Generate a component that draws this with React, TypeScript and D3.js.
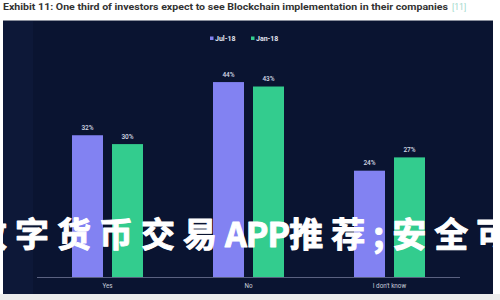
import React from "react";
import * as d3 from "d3";

const categories = ["Yes", "No", "I don't know"];
const seriesNames = ["Jul-18", "Jan-18"];
const jul18 = [32, 44, 24];
const jan18 = [30, 43, 27];
const colors = ["#8282f2", "#33cc8e"];
const title = "Exhibit 11: One third of investors expect to see Blockchain implementation in their companies";
const titleRef = "[11]";
const overlayCJK1 = "数字货币交易";
const overlayLatin = "APP";
const overlayCJK2 = "推荐";
const overlayPunct = ";";
const overlayCJK3 = "安全可";

export default function App() {
  const W = 500, H = 300;
  const panel = { x: 3, y: 20, w: 490, h: 274 };
  const x0 = d3.scaleBand<string>().domain(categories).range([37, 460]).paddingInner(0);
  const x1 = d3.scaleBand<string>().domain(seriesNames).range([35, 106]).paddingInner(0.225);
  const y = d3.scaleLinear().domain([0, 50]).range([277, 55.5]);
  const values = [jul18, jan18];
  const font = "Roboto, 'Liberation Sans', Arial, sans-serif";

  return (
    <svg width={W} height={H} style={{ position: "absolute", left: 0, top: 0, background: "#ffffff" }}>
      <rect x={0} y={0} width={W} height={H} fill="#ffffff" />
      <text x={3} y={9.5} fontFamily={font} fontWeight={700} fontSize={8.6} fill="#333333" textLength={445} lengthAdjust="spacingAndGlyphs">
        {title}
      </text>
      <text x={452} y={9.5} fontFamily={font} fontWeight={400} fontSize={8.6} fill="#9fd9cc">
        {titleRef}
      </text>
      <rect x={0} y={panel.y + panel.h} width={W} height={H - panel.y - panel.h} fill="#ececec" />
      <rect x={panel.x} y={panel.y} width={panel.w} height={panel.h} fill="#0a1431" />
      <rect x={panel.x} y={panel.y} width={30} height={panel.h} fill="#0d1838" />
      <line x1={panel.x} x2={panel.x + panel.w} y1={panel.y + 0.5} y2={panel.y + 0.5} stroke="#8a8f9c" strokeWidth={1} />

      {/* legend */}
      <g fontFamily={font} fontWeight={700} fontSize={7} fill="#e2e5f0">
        <rect x={210} y={36.5} width={3.5} height={3.5} fill={colors[0]} />
        <text x={215} y={40.5}>{seriesNames[0]}</text>
        <rect x={251} y={36.5} width={3.5} height={3.5} fill={colors[1]} />
        <text x={256} y={40.5}>{seriesNames[1]}</text>
      </g>

      {/* bars */}
      {categories.map((c, i) => (
        <g key={c} transform={`translate(${x0(c)},0)`}>
          {seriesNames.map((s, j) => {
            const v = values[j][i];
            const bx = x1(s)!;
            return (
              <g key={s}>
                <rect x={bx} y={y(v)} width={x1.bandwidth()} height={y(0) - y(v)} fill={colors[j]} />
                <text x={bx + x1.bandwidth() / 2} y={y(v) - 5.5} textAnchor="middle" fontFamily={font} fontWeight={500} fontSize={6.5} fill="#d6dae6">
                  {v}%
                </text>
              </g>
            );
          })}
        </g>
      ))}

      {/* axis */}
      <line x1={37} x2={460} y1={y(0) + 0.5} y2={y(0) + 0.5} stroke="#5a6180" strokeWidth={1} />
      {categories.map((c) => (
        <text key={c} x={x0(c)! + x0.bandwidth() / 2} y={287.5} textAnchor="middle" fontFamily={font} fontSize={6.3} fill="#c9cdda">
          {c}
        </text>
      ))}

      {/* overlay text */}
      <text x={-27} y={247} fontFamily="'Noto Sans CJK SC', sans-serif" fontWeight={700} fontSize={34} fill="#ffffff" stroke="#ffffff" strokeWidth={1} strokeLinejoin="round">
        <tspan letterSpacing={8}>{overlayCJK1}</tspan>
        <tspan letterSpacing={-1}>{overlayLatin}</tspan>
        <tspan letterSpacing={8}>{overlayCJK2}</tspan>
        <tspan letterSpacing={8}>{overlayPunct}</tspan>
        <tspan letterSpacing={8}>{overlayCJK3}</tspan>
      </text>
    </svg>
  );
}
